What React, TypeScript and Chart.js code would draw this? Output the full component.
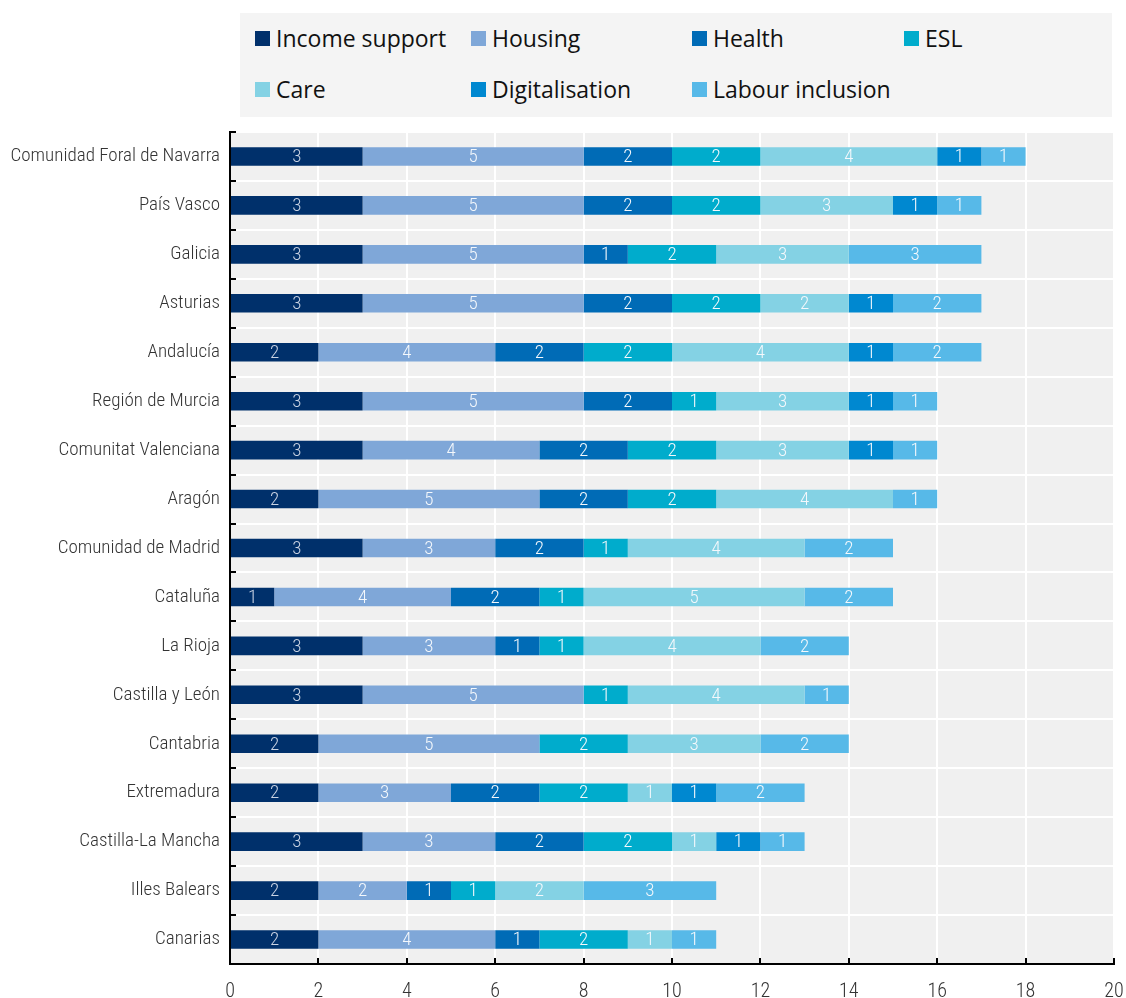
import React, { useEffect, useRef } from "react";
import { Chart, registerables } from "chart.js";

Chart.register(...registerables);

const regions = [
  "Comunidad Foral de Navarra",
  "País Vasco",
  "Galicia",
  "Asturias",
  "Andalucía",
  "Región de Murcia",
  "Comunitat Valenciana",
  "Aragón",
  "Comunidad de Madrid",
  "Cataluña",
  "La Rioja",
  "Castilla y León",
  "Cantabria",
  "Extremadura",
  "Castilla-La Mancha",
  "Illes Balears",
  "Canarias",
];

const incomeSupport = [3, 3, 3, 3, 2, 3, 3, 2, 3, 1, 3, 3, 2, 2, 3, 2, 2];
const housing = [5, 5, 5, 5, 4, 5, 4, 5, 3, 4, 3, 5, 5, 3, 3, 2, 4];
const health = [2, 2, 1, 2, 2, 2, 2, 2, 2, 2, 1, 0, 0, 2, 2, 1, 1];
const esl = [2, 2, 2, 2, 2, 1, 2, 2, 1, 1, 1, 1, 2, 2, 2, 1, 2];
const care = [4, 3, 3, 2, 4, 3, 3, 4, 4, 5, 4, 4, 3, 1, 1, 2, 1];
const digitalisation = [1, 1, 0, 1, 1, 1, 1, 0, 0, 0, 0, 0, 0, 1, 1, 0, 0];
const labourInclusion = [1, 1, 3, 2, 2, 1, 1, 1, 2, 2, 2, 1, 2, 2, 1, 3, 1];

const xTicks = [0, 2, 4, 6, 8, 10, 12, 14, 16, 18, 20];

const seriesNames = [
  "Income support",
  "Housing",
  "Health",
  "ESL",
  "Care",
  "Digitalisation",
  "Labour inclusion",
];
const seriesValues = [incomeSupport, housing, health, esl, care, digitalisation, labourInclusion];
const seriesColors = ["#00306B", "#7FA7D8", "#006BB6", "#00ACCC", "#84D2E4", "#0088D0", "#57B9E8"];

const legendOrder = [0, 1, 2, 3, 4, 5, 6];

const tickFont = "'Liberation Sans Narrow', 'Arial Narrow', 'Roboto Condensed', sans-serif";

const bgPlugin = {
  id: "areaBg",
  beforeDraw(chart: any) {
    const { ctx, chartArea } = chart;
    ctx.save();
    ctx.fillStyle = "#F0F0F0";
    ctx.fillRect(chartArea.left, chartArea.top, chartArea.right - chartArea.left, chartArea.bottom - chartArea.top);
    ctx.restore();
  },
};

const labelPlugin = {
  id: "segLabels",
  afterDatasetsDraw(chart: any) {
    const { ctx } = chart;
    ctx.save();
    ctx.font = `300 19px ${tickFont}`;
    ctx.textAlign = "center";
    ctx.textBaseline = "middle";
    chart.data.datasets.forEach((ds: any, di: number) => {
      const meta = chart.getDatasetMeta(di);
      meta.data.forEach((el: any, i: number) => {
        const v = ds.data[i];
        if (!v) return;
        ctx.fillStyle = di === 0 ? "#C9D3E3" : "#F4F8FC";
        const cx = (el.x + el.base) / 2;
        ctx.fillText(String(v), cx, el.y + 1);
      });
    });
    ctx.restore();
  },
};

export default function App() {
  const ref = useRef<HTMLCanvasElement>(null);

  useEffect(() => {
    if (!ref.current) return;
    const chart = new Chart(ref.current, {
      type: "bar",
      data: {
        labels: regions,
        datasets: seriesNames.map((name, i) => ({
          label: name,
          data: seriesValues[i],
          backgroundColor: seriesColors[i],
          borderWidth: 0,
          categoryPercentage: 1,
          barPercentage: 0.38,
        })),
      },
      options: {
        indexAxis: "y",
        animation: false,
        responsive: false,
        maintainAspectRatio: false,
        layout: { padding: { top: 132, right: 12, bottom: 0, left: 0 } },
        plugins: {
          legend: { display: false },
          tooltip: { enabled: false },
        },
        scales: {
          x: {
            stacked: true,
            min: 0,
            max: 20,
            afterBuildTicks(scale: any) {
              scale.ticks = xTicks.map((v) => ({ value: v }));
            },
            afterFit(scale: any) {
              scale.height = 34;
              scale.paddingLeft = 0;
              scale.paddingRight = 0;
            },
            grid: {
              color: "#FFFFFF",
              lineWidth: 2,
              tickColor: "#000000",
              tickWidth: 2,
              tickLength: -6,
              drawTicks: true,
            },
            border: { color: "#000000", width: 2 },
            ticks: {
              color: "#333333",
              font: { family: tickFont, size: 20, weight: "300" },
              padding: 22,
            },
          },
          y: {
            stacked: true,
            afterFit(scale: any) {
              scale.width = 230;
              scale.paddingTop = 0;
              scale.paddingBottom = 0;
            },
            grid: {
              color: "#FFFFFF",
              lineWidth: 2,
              tickColor: "#000000",
              tickWidth: 2,
              tickLength: -6,
              offset: true,
            },
            border: { color: "#000000", width: 2 },
            ticks: {
              color: "#333333",
              font: { family: tickFont, size: 19, weight: "300" },
              padding: 16,
            },
          },
        },
      },
      plugins: [bgPlugin, labelPlugin],
    });
    return () => chart.destroy();
  }, []);

  const legendCols = [255, 471, 692, 904];

  return (
    <div style={{ position: "absolute", left: 0, top: 0, width: 1126, height: 998, background: "#fff" }}>
      <div
        style={{
          position: "absolute",
          left: 240,
          top: 13,
          width: 872,
          height: 104,
          background: "#F4F4F4",
        }}
      />
      {legendOrder.map((si, k) => {
        const col = k % 4;
        const row = Math.floor(k / 4);
        return (
          <div
            key={si}
            style={{
              position: "absolute",
              left: legendCols[col],
              top: 24 + row * 51,
              height: 28,
              display: "flex",
              alignItems: "center",
              fontFamily: "'Open Sans', 'Noto Sans', sans-serif",
              fontSize: 23,
              color: "#111",
              whiteSpace: "nowrap",
            }}
          >
            <span
              style={{
                display: "inline-block",
                width: 15,
                height: 15,
                background: seriesColors[si],
                marginRight: 6,
              }}
            />
            {seriesNames[si]}
          </div>
        );
      })}
      <canvas ref={ref} width={1126} height={998} style={{ position: "absolute", left: 0, top: 0, width: 1126, height: 998 }} />
    </div>
  );
}
